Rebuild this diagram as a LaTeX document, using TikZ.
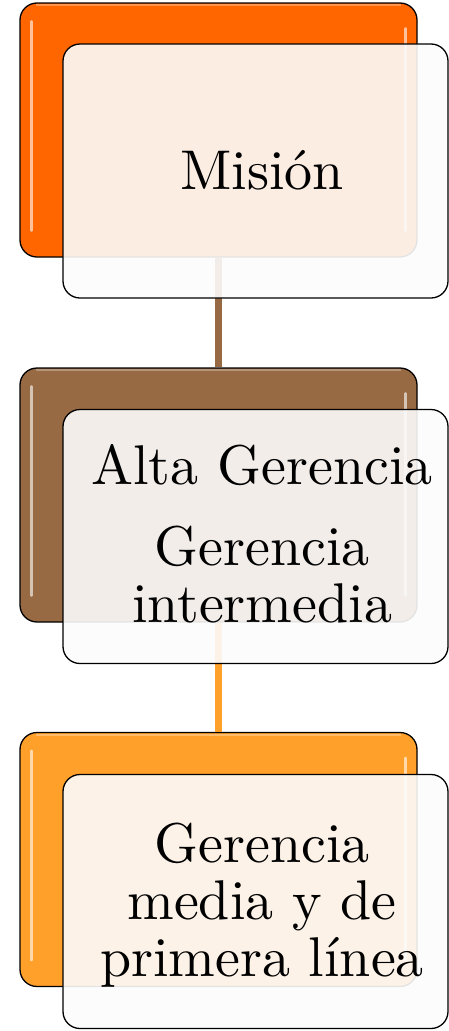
\documentclass[tikz,border=0pt]{standalone}
\usepackage{fontspec}
\setmainfont{lmroman10-regular.otf}
\definecolor{cone}{HTML}{FF6600}
\definecolor{ctwo}{HTML}{976A43}
\definecolor{cthree}{HTML}{FFA02B}
\definecolor{frontfill}{HTML}{FCFCFC}
\begin{document}
\begin{tikzpicture}[x=1pt,y=-1pt,
  backbox/.style={draw=black, line width=1.3pt, rounded corners=17pt,
    minimum width=397pt, minimum height=254pt, inner sep=0pt},
  frontbox/.style={draw=black, line width=1.3pt, rounded corners=17pt,
    fill=frontfill, fill opacity=0.9, minimum width=385pt,
    minimum height=254pt, inner sep=0pt},
  conn/.style={line width=7pt},
  gloss/.style={line width=2.5pt, line cap=round, draw=white, draw opacity=0.6},
  lbl/.style={align=center, font=\fontsize{56}{57}\selectfont, text=black, inner sep=0pt}]
\useasboundingbox (0,0) rectangle (449,1031);
% back boxes
\node[backbox, fill=cone]   (b1) at (218.5,130) {};
\node[backbox, fill=ctwo]   (b2) at (218.5,495) {};
\node[backbox, fill=cthree] (b3) at (218.5,859.5) {};
% gloss highlights
\foreach \b in {b1,b2,b3}{
  \draw[gloss] ([xshift=12pt,yshift=-19pt]\b.north west) -- ([xshift=12pt,yshift=27pt]\b.south west);
  \draw[gloss] ([xshift=-12pt,yshift=-26pt]\b.north east) -- ([xshift=-12pt,yshift=27pt]\b.south east);
  \draw[line width=2pt, draw=white, draw opacity=0.3] ([xshift=17pt,yshift=-3pt]\b.north west) -- ([xshift=-17pt,yshift=-3pt]\b.north east);
}
% connectors
\draw[conn, draw=ctwo]   (b1.south) -- (b2.north);
\draw[conn, draw=cthree] (b2.south) -- (b3.north);
% front boxes
\node[frontbox] (f1) at (255.5,171) {};
\node[frontbox] (f2) at (255.5,536.5) {};
\node[frontbox] (f3) at (255.5,901.5) {};
% labels
\node[lbl] (t1) at (262,170) {Misión};
\node[lbl] (t2) at (262,534) {Alta Gerencia\\[24pt]Gerencia\\intermedia};
\node[lbl] (t3) at (262,905) {Gerencia\\media y de\\primera línea};
\end{tikzpicture}
\end{document}
